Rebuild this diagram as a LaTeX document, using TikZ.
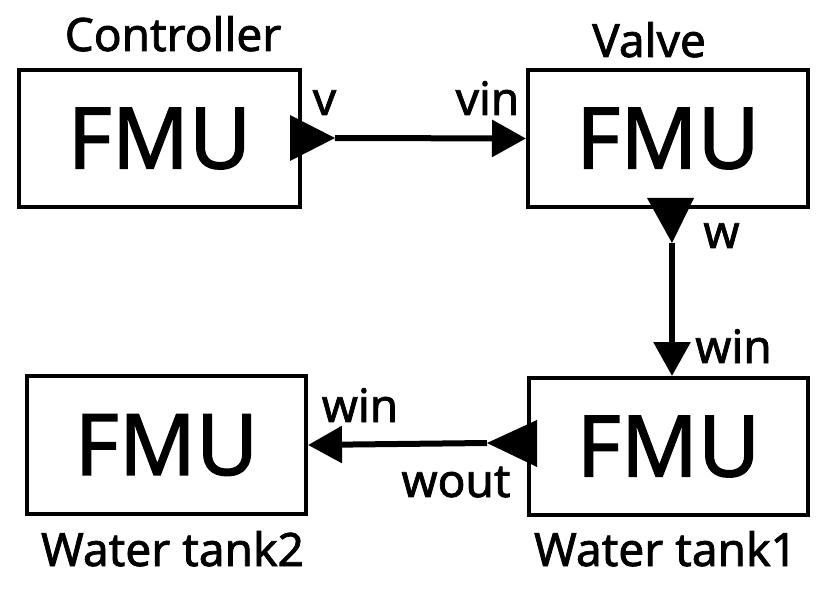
\documentclass[tikz,border=0pt]{standalone}
\usepackage{fontspec}
\setmainfont{Noto Sans}[FakeBold=1.6]
\usetikzlibrary{arrows.meta}
\begin{document}
\begin{tikzpicture}[x=1pt,y=-1pt,
  fmubox/.style={draw, line width=4pt, minimum height=137pt, inner sep=0pt,
    font=\fontsize{85}{90}\bfseries\selectfont},
  title/.style={inner sep=0pt, anchor=base, font=\fontsize{46}{50}\bfseries\selectfont},
  port/.style={inner sep=0pt, anchor=base, font=\fontsize{46}{50}\bfseries\selectfont},
  link/.style={line width=6pt, -{Triangle[length=34pt,width=36pt]}},
  porttri/.style={fill=black}
]
\useasboundingbox (0,0) rectangle (831,591);

% FMU blocks
\node[fmubox, minimum width=281pt] (ctrl)  at (159.5,138.5) {FMU};
\node[fmubox, minimum width=280pt] (valve) at (668,138.5)   {FMU};
\node[fmubox, minimum width=279pt, minimum height=138pt] (tank2) at (166.5,445) {FMU};
\node[fmubox, minimum width=279pt] (tank1) at (668.5,446.5) {FMU};

% block titles
\node[title] (tctrl)  at (173,51)    {Controller};
\node[title] (tvalve) at (649,57)    {Valve};
\node[title] (ttank2) at (172.5,566) {Water tank2};
\node[title] (ttank1) at (665.5,566) {Water tank1};

% output ports (filled triangles) and their tips
\coordinate (vout)    at (335,138);
\coordinate (wout)    at (672,243);
\coordinate (woutp)   at (487,443);
\fill[porttri] (290,115) -- (290,161) -- (vout) -- cycle;
\fill[porttri] (647,198) -- (694,198) -- (wout) -- cycle;
\fill[porttri] (537,420) -- (537,467) -- (woutp) -- cycle;

% connections
\draw[link] (vout) -- (valve.west);
\draw[link] (wout) -- (wout |- tank1.north);
\draw[link] (woutp) -- (tank2.east);

% port names
\node[port] (pv)    at (324.5,115) {v};
\node[port] (pvin)  at (487.5,115) {vin};
\node[port] (pw)    at (721.5,248) {w};
\node[port] (pwin1) at (733.5,363) {win};
\node[port] (pwin2) at (360,422)   {win};
\node[port] (pwout) at (456,497)   {wout};
\end{tikzpicture}
\end{document}
